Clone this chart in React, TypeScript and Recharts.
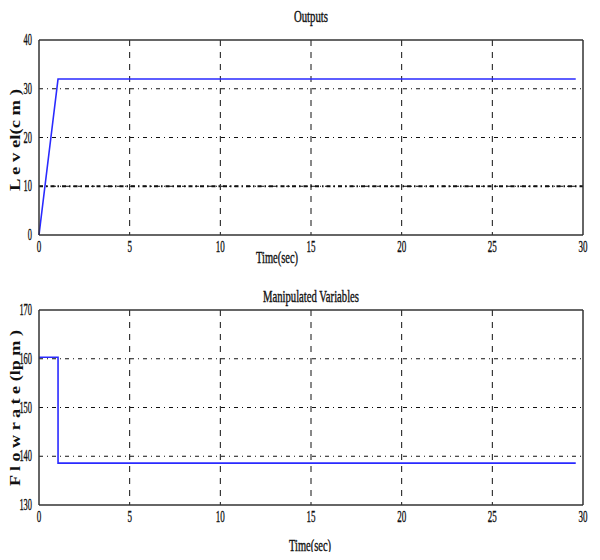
import React from 'react';
import { LineChart, Line, XAxis, YAxis, CartesianGrid, ReferenceLine, Label } from 'recharts';

const xTicks = [0, 5, 10, 15, 20, 25, 30];
const levelTicks = [0, 10, 20, 30, 40];
const flowTicks = [130, 140, 150, 160, 170];

const levelTime = [0, 1.05, 29.6];
const levelValue = [0, 32, 32];

const flowTime = [0, 1.05, 1.05, 29.6];
const flowValue = [160.3, 160.3, 138.6, 138.6];

const levelData = levelTime.map((t, i) => ({ t, v: levelValue[i] }));
const flowData = flowTime.map((t, i) => ({ t, v: flowValue[i] }));

const SERIF = '"Liberation Serif", "DejaVu Serif", serif';
const BORDER = '#333';
const LINE = '#2a2aff';

// matlab-ish squeezed numbers
const XTick = (props: any) => {
  const { x, y, payload } = props;
  const s = String(payload.value);
  return (
    <text x={x} y={y + 9} textAnchor="middle" fontFamily={SERIF} fontSize={16} fill="#111"
      stroke="#111" strokeWidth={0.35} textLength={s.length * 4.5} lengthAdjust="spacingAndGlyphs">{s}</text>
  );
};

const YTick = (props: any) => {
  const { x, y, payload } = props;
  const s = String(payload.value);
  return (
    <text x={x + 1} y={y + 5} textAnchor="end" fontFamily={SERIF} fontSize={16} fill="#111"
      stroke="#111" strokeWidth={0.35} textLength={s.length * 4.2} lengthAdjust="spacingAndGlyphs">{s}</text>
  );
};

const squeezed = (text: string, cx: number, y: number, len: number) => (
  <text x={cx} y={y} textAnchor="middle" fontFamily={SERIF} fontSize={17} fill="#111"
    stroke="#111" strokeWidth={0.4} textLength={len} lengthAdjust="spacingAndGlyphs">{text}</text>
);

const rotated = (text: string, cx: number, cy: number, len: number) => (
  <text x={cx} y={cy} textAnchor="middle" fontFamily={SERIF} fontWeight="bold" fontSize={15} fill="#111"
    transform={`rotate(-90, ${cx}, ${cy})`} textLength={len} lengthAdjust="spacingAndGlyphs">{text}</text>
);

const Panel = ({ data, yDomain, yTicks, title, titleGap, yLabel, yLabelLen, yLabelCy, xLabelX, xLabelY, titleLen, marginTop, marginBottom, boldLine }: any) => (
  <LineChart width={600} height={280} data={data}
    margin={{ top: marginTop, right: 17, bottom: marginBottom, left: 9 }}>
    <CartesianGrid horizontal={false} stroke="#111" strokeDasharray="6 6" strokeWidth={1}
      verticalValues={[5, 10, 15, 20, 25]} />
    <CartesianGrid vertical={false} stroke="#111" strokeDasharray="4 4 1 4" strokeWidth={1}
      horizontalValues={yTicks.slice(1, -1)} />
    {boldLine !== undefined && (
      <ReferenceLine y={boldLine} stroke="#111" strokeWidth={2.2} strokeDasharray="4 3 1.5 3" />
    )}
    <XAxis type="number" dataKey="t" domain={[0, 30]} ticks={xTicks} interval={0}
      axisLine={{ stroke: BORDER, strokeWidth: 1.5 }} tickLine={false} height={30} tick={<XTick />}>
      <Label content={(p: any) => squeezed('Time(sec)', p.viewBox.x + xLabelX, p.viewBox.y + xLabelY, 42)} />
    </XAxis>
    <YAxis type="number" domain={yDomain} ticks={yTicks} interval={0} width={30}
      axisLine={{ stroke: BORDER, strokeWidth: 1.5 }} tickLine={false} tick={<YTick />}>
      <Label content={(p: any) => rotated(yLabel, 20, yLabelCy, yLabelLen)} />
    </YAxis>
    <ReferenceLine y={yDomain[1]} stroke={BORDER} strokeWidth={1.5}>
      <Label content={(p: any) => squeezed(title, p.viewBox.x + 272, p.viewBox.y - titleGap, titleLen)} />
    </ReferenceLine>
    <ReferenceLine x={30} stroke={BORDER} strokeWidth={1.5} />
    <Line type="linear" dataKey="v" stroke={LINE} strokeWidth={1.6} dot={false} isAnimationActive={false} />
  </LineChart>
);

export default function App() {
  return (
    <div style={{ width: 600, height: 560, margin: -8, background: '#fff' }}>
      <Panel data={levelData} yDomain={[0, 40]} yTicks={levelTicks} title="Outputs" titleLen={34} titleGap={18}
        yLabel="L e v el(c m )" yLabelLen={102} yLabelCy={140}
        xLabelX={238} xLabelY={28} marginTop={40} marginBottom={15} boldLine={10} />
      <Panel data={flowData} yDomain={[130, 170]} yTicks={flowTicks} title="Manipulated Variables" titleLen={96} titleGap={8}
        yLabel="F l o w   r a t e (lp m )" yLabelLen={156} yLabelCy={128}
        xLabelX={271} xLabelY={46} marginTop={30} marginBottom={25} />
    </div>
  );
}
